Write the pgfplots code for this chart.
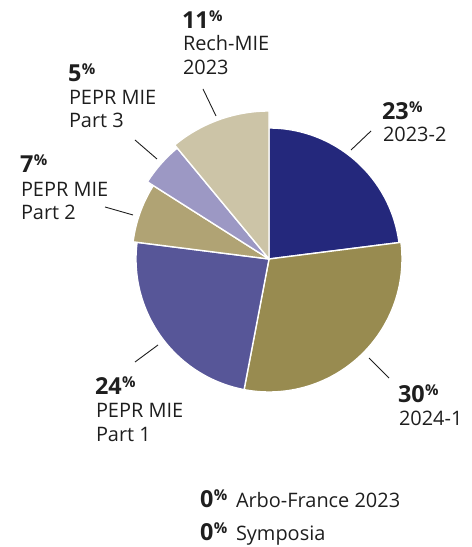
\documentclass[border=0pt]{standalone}
\usepackage{pgfplots}
\pgfplotsset{compat=1.18}
\usepackage{pgfplotstable}
\usepackage{fontspec}
\setmainfont{Open Sans}
\definecolor{c0}{HTML}{24287C}
\definecolor{c1}{HTML}{988B50}
\definecolor{c2}{HTML}{575698}
\definecolor{c3}{HTML}{B0A374}
\definecolor{c4}{HTML}{9C98C4}
\definecolor{c5}{HTML}{CCC4A7}
\definecolor{txt}{HTML}{1E1E1E}
% share (percent) and drawn radius of each slice, clockwise from 12 o'clock
\pgfplotstableread{
pct r
23 131
30 133
24 133
7 137
5 144
11 148
}\piedata
\newcommand\pc[1]{{\fontsize{23.5}{24}\selectfont\bfseries #1}\hspace{0.5bp}\raisebox{7bp}{\fontsize{15}{15}\selectfont\bfseries\%}}
\newcommand\lb{\fontsize{20}{20}\selectfont}
\tikzset{lbl/.style={inner sep=0pt, outer sep=0pt, text=txt, anchor=base west}}
\begin{document}
\begin{tikzpicture}
\begin{axis}[scale only axis, width=472bp, height=547bp,
  xmin=0, xmax=472, ymin=0, ymax=547, axis lines=none, clip=false]
\addplot[draw=none] coordinates {(0,0) (472,547)};
\pgfplotsextra{
  \xdef\cur{90}
  \foreach \i in {0,...,5} {
    \pgfplotstablegetelem{\i}{pct}\of\piedata \let\p\pgfplotsretval
    \pgfplotstablegetelem{\i}{r}\of\piedata \let\rr\pgfplotsretval
    \pgfmathsetmacro\en{\cur-3.6*\p}
    \fill[c\i, draw=white, line width=1.4pt, line join=round]
      (axis cs:269,288) -- ++(\cur:\rr bp) arc[start angle=\cur, end angle=\en, radius=\rr bp] -- cycle;
    \xdef\cur{\en}
  }
}
% leader lines
\draw[txt, line width=0.9pt] (axis cs:203,458) -- (axis cs:216,431);
\draw[txt, line width=0.9pt] (axis cs:351,397) -- (axis cs:371,416);
\draw[txt, line width=0.9pt] (axis cs:135,407) -- (axis cs:157,388);
\draw[txt, line width=0.9pt] (axis cs:105,340) -- (axis cs:133,332);
\draw[txt, line width=0.9pt] (axis cs:135,185) -- (axis cs:158,202);
\draw[txt, line width=0.9pt] (axis cs:369,189) -- (axis cs:389,169);
% labels
\node[lbl] at (axis cs:182,518) {\pc{11}};
\node[lbl] at (axis cs:183,496) {\lb Rech-MIE};
\node[lbl] at (axis cs:183,472) {\lb 2023};
\node[lbl] at (axis cs:382,427) {\pc{23}};
\node[lbl] at (axis cs:383,405) {\lb 2023-2};
\node[lbl] at (axis cs:68,465) {\pc{5}};
\node[lbl] at (axis cs:69,442) {\lb PEPR MIE};
\node[lbl] at (axis cs:69,419) {\lb Part 3};
\node[lbl] at (axis cs:20,374) {\pc{7}};
\node[lbl] at (axis cs:21,350) {\lb PEPR MIE};
\node[lbl] at (axis cs:21,327) {\lb Part 2};
\node[lbl] at (axis cs:95,152) {\pc{24}};
\node[lbl] at (axis cs:96,129) {\lb PEPR MIE};
\node[lbl] at (axis cs:96,105) {\lb Part 1};
\node[lbl] at (axis cs:398,144) {\pc{30}};
\node[lbl] at (axis cs:399,121) {\lb 2024-1};
\node[lbl] at (axis cs:200,39) {\pc{0}};
\node[lbl] at (axis cs:236,39) {\lb Arbo-France 2023};
\node[lbl] at (axis cs:200,7) {\pc{0}};
\node[lbl] at (axis cs:236,7) {\lb Symposia};
\end{axis}
\end{tikzpicture}
\end{document}
